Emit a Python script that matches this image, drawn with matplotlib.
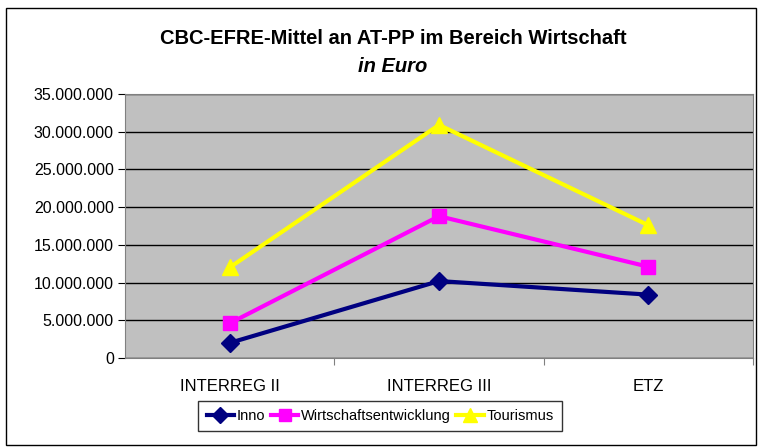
import numpy as np
import matplotlib.pyplot as plt
from matplotlib.patches import Rectangle
from matplotlib.ticker import FuncFormatter

categories = ["INTERREG II", "INTERREG III", "ETZ"]
inno = [2000000, 10200000, 8400000]
wirtschaft = [4600000, 18800000, 12100000]
tourismus = [12000000, 30900000, 17600000]

plt.rcParams['font.family'] = ['Liberation Sans', 'DejaVu Sans']

fig = plt.figure(figsize=(7.62, 4.47), dpi=100)
ax = fig.add_axes([125/762, 1-358/447, 628/762, 264/447])

# outer frame
fig.patches.append(Rectangle((6/762, 2/447), 750/762, 437/447, transform=fig.transFigure,
                             fill=False, edgecolor='black', linewidth=1))

x = np.arange(len(categories))
ax.plot(x, inno, color='#000080', lw=3, marker='D', ms=9, label='Inno')
ax.plot(x, wirtschaft, color='#FF00FF', lw=3, marker='s', ms=10, label='Wirtschaftsentwicklung')
ax.plot(x, tourismus, color='#FFFF00', lw=3, marker='^', ms=12, label='Tourismus')

ax.set_facecolor('#C0C0C0')
ax.set_xlim(-0.5, 2.5)
ax.set_ylim(0, 35000000)
ax.set_yticks(np.arange(0, 35000001, 5000000))
ax.yaxis.set_major_formatter(FuncFormatter(lambda v, p: f"{int(v):,}".replace(",", ".")))
ax.grid(axis='y', color='black', lw=1)
ax.set_axisbelow(True)

ax.set_xticks([0.5, 1.5, 2.5])
ax.set_xticklabels([])
ax.set_xticks(x, minor=True)
ax.set_xticklabels(categories, minor=True)
ax.tick_params(axis='x', which='minor', length=0, pad=15, labelsize=12)
ax.tick_params(axis='x', which='major', length=5, color='#808080')
ax.tick_params(axis='y', length=5, labelsize=11.5, pad=3)

for s in ax.spines.values():
    s.set_color('#808080')

fig.text(393/762, 1-39/447, "CBC-EFRE-Mittel an AT-PP im Bereich Wirtschaft",
         ha='center', va='center', fontsize=14.5, fontweight='bold')
fig.text(393/762, 1-67/447, "in Euro", ha='center', va='center',
         fontsize=14.5, fontweight='bold', style='italic')

leg = fig.legend(loc='center', bbox_to_anchor=(380/762, 1-416/447), ncol=3, fontsize=10.5,
                 frameon=True, fancybox=False, edgecolor='black', handlelength=1.9,
                 handletextpad=0.15, columnspacing=0.4, borderpad=0.55, markerscale=0.85)
leg.get_frame().set_linewidth(1)

fig.savefig('out.png', dpi=100)
